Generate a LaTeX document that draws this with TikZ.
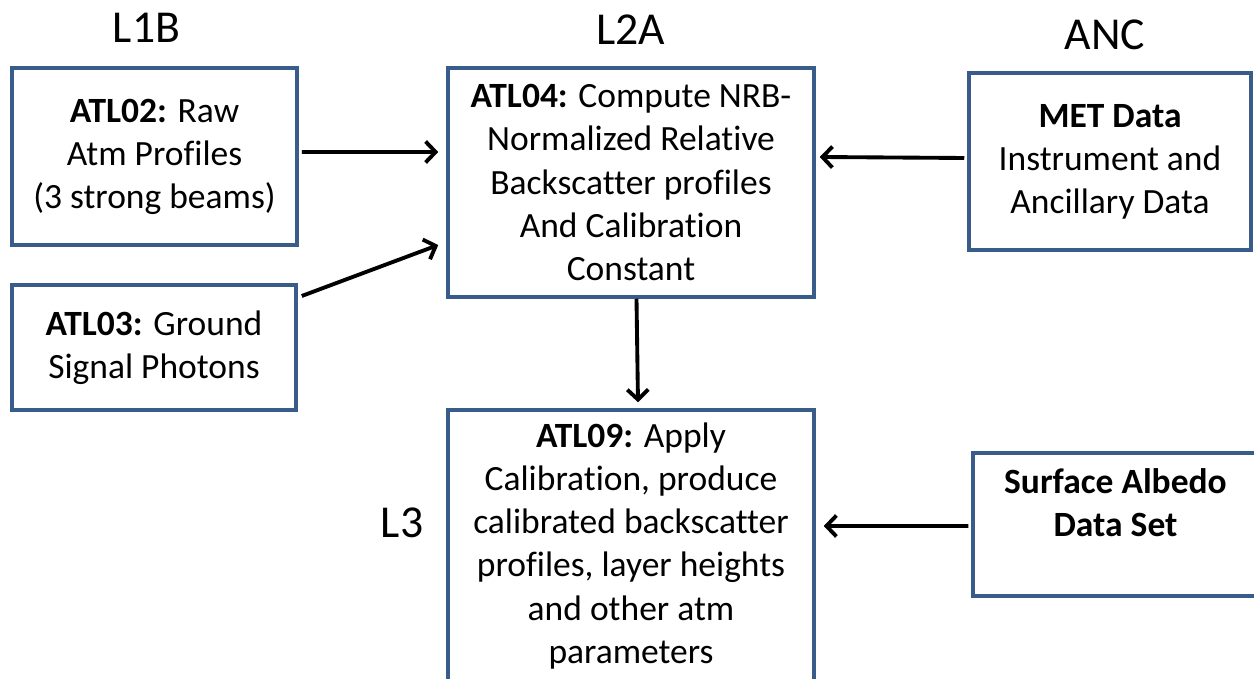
\documentclass[tikz,border=0pt]{standalone}
\usepackage{fontspec}
\setmainfont{Carlito}[Ligatures=NoCommon]
\usepackage{xcolor}
\usetikzlibrary{arrows.meta}
\definecolor{boxblue}{HTML}{385D8A}

\begin{document}
\begin{tikzpicture}[
        box/.style={draw=boxblue, line width=2pt, align=center, inner sep=0pt,
                    font=\fontsize{20.2}{24.5}\selectfont},
        lvl/.style={font=\fontsize{26}{30}\selectfont},
        arr/.style={line width=2.2pt, -{Straight Barb[length=0.2cm,width=0.42cm]}}]
    \useasboundingbox (0,0) rectangle (25.08,-13.58);

    \node[lvl] (l1b) at (2.93,-0.55) {L1B};
    \node[lvl] (l2a) at (12.62,-0.6) {L2A};
    \node[lvl] (anc) at (22.1,-0.7)  {ANC};
    \node[lvl] (l3)  at (8.04,-10.46) {L3};

    \node[box, minimum width=5.7cm,  minimum height=3.54cm] (atl02)  at (3.09,-3.13)
        {\textbf{ATL02:} Raw\\Atm Profiles\\(3 strong beams)};
    \node[box, minimum width=5.68cm, minimum height=2.5cm]  (atl03)  at (3.08,-6.95)
        {\textbf{ATL03:} Ground\\Signal Photons};
    \node[box, minimum width=7.32cm, minimum height=4.58cm] (atl04)  at (12.62,-3.65)
        {\textbf{ATL04:} Compute NRB-\\Normalized Relative\\Backscatter profiles\\And Calibration\\Constant};
    \node[box, minimum width=7.32cm, minimum height=5.44cm] (atl09)  at (12.62,-10.92)
        {\textbf{ATL09:} Apply\\Calibration, produce\\calibrated backscatter\\profiles, layer heights\\and other atm\\parameters};
    \node[box, minimum width=5.64cm, minimum height=3.54cm] (met)    at (22.2,-3.23)
        {\textbf{MET Data}\\Instrument and\\Ancillary Data};
    \node[box, minimum width=5.7cm,  minimum height=2.86cm] (albedo) at (22.31,-10.49)
        {\textbf{Surface Albedo}\\\textbf{Data Set}\\~};

    % inputs into ATL04 and ATL09
    \draw[arr] ([xshift=0.06cm,yshift=0.09cm]atl02.east) -- ([xshift=-0.16cm,yshift=0.61cm]atl04.west);
    \draw[arr] ([xshift=0.08cm,yshift=1.03cm]atl03.east) -- ([xshift=-0.16cm,yshift=-1.25cm]atl04.west);
    \draw[arr] ([xshift=0.11cm]atl04.south) -- ([xshift=0.14cm,yshift=0.12cm]atl09.north);
    \draw[arr] ([xshift=-0.06cm,yshift=0.07cm]met.west) -- ([xshift=0.08cm,yshift=0.51cm]atl04.east);
    \draw[arr] ([xshift=-0.06cm,yshift=-0.03cm]albedo.west) -- ([xshift=0.16cm,yshift=0.4cm]atl09.east);
\end{tikzpicture}
\end{document}
